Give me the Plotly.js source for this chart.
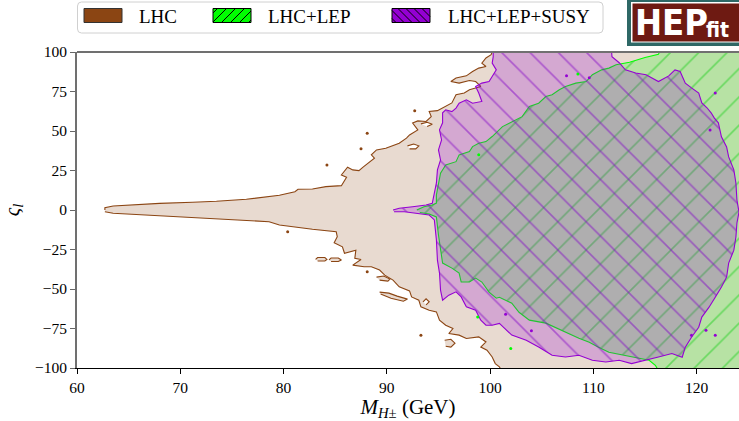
<!DOCTYPE html>
<html><head><meta charset="utf-8">
<script src="https://cdn.plot.ly/plotly-3.0.1.min.js"></script>
<style>html,body{margin:0;padding:0;background:#fff}#chart{width:739px;height:421px}</style>
</head><body><div id="chart"></div>
<script>
// ---------------- data (M_H± in GeV, ς_l) ----------------
const xTicks = [60, 70, 80, 90, 100, 110, 120];
const yTicks = [-100, -75, -50, -25, 0, 25, 50, 75, 100];
const legendNames = ['LHC', 'LHC+LEP', 'LHC+LEP+SUSY'];

// LHC allowed region boundary
const lhcBoundary = [
 [62.7,0],[62.7,1.5],[63.5,2.5],[64.8,3.0],[68.0,4.2],[71.2,4.9],[73.5,5.5],[76.4,6.8],[78.3,8.4],[79.6,9.3],
 [81.1,11.6],[81.4,13.1],[82.8,13.3],[84.1,14.8],[85.6,15.4],[85.9,19.0],[86.1,20.7],[85.6,22.2],[86.2,27.1],[86.7,25.4],
 [87.3,24.9],[87.7,27.1],[88.8,32.8],[88.5,34.9],[89.0,38.0],[89.9,39.1],[91.2,42.3],[91.9,45.5],[92.2,47.5],[93.0,50.7],
 [92.5,55.0],[93.0,56.4],[93.8,56.0],[94.3,59.1],[94.1,62.3],[94.9,62.9],[95.4,64.7],[96.3,67.8],[96.7,72.9],[97.5,74.0],
 [98.0,76.1],[98.5,77.1],[99.1,78.2],[98.6,81.3],[98.0,82.0],[97.0,80.3],[96.2,81.3],[96.7,83.5],[97.7,84.9],[98.3,87.7],
 [98.9,89.8],[99.6,90.8],[99.2,93.0],[99.6,96.2],[100.1,98.3],[100.5,105],[130,105],[130,-105],[101.4,-105],
 [100.9,-99.3],[100.5,-97.2],[100.2,-93.0],[99.7,-88.7],[99.1,-86.7],[99.6,-83.5],[98.9,-80.3],[97.7,-81.3],[97.0,-79.2],
 [96.0,-78.2],[96.4,-75.0],[95.7,-72.9],[95.1,-69.7],[94.8,-64.5],[94.1,-63.4],[93.3,-61.3],[93.1,-57.1],[92.4,-55.0],
 [92.2,-51.2],[91.2,-48.6],[90.6,-44.4],[89.8,-41.2],[89.3,-38.0],[88.5,-35.9],[87.8,-35.9],[86.7,-34.9],[87.5,-31.3],
 [86.9,-30.6],[87.0,-25.4],[85.9,-27.4],[85.7,-23.3],[84.9,-20.7],[85.2,-16.9],[85.1,-13.8],[82.8,-12.2],[80.9,-10.6],
 [79.6,-9.5],[78.6,-7.4],[74.5,-5.9],[71.2,-4.6],[66.4,-3.2],[63.5,-2.1],[62.7,-1.1]
];
// small LHC islands and holes
const lhcIslands = [
 [[83.1,-31.3],[83.3,-30.1],[84.0,-30.1],[84.2,-31.3],[84.0,-32.3],[83.3,-32.3]],
 [[84.4,-31.6],[84.6,-30.4],[85.3,-30.4],[85.6,-31.6],[85.3,-32.6],[84.6,-32.6]],
 [[89.3,-52.0],[90.2,-52.6],[91.0,-54.5],[92.0,-56.4],[91.6,-57.7],[90.4,-55.8],[89.4,-53.2]],
 [[89.0,-42.5],[89.7,-41.8],[90.3,-43.7],[90.1,-45.0],[89.3,-44.4]],
 [[95.6,-82.4],[96.2,-81.8],[96.6,-84.3],[96.2,-86.8],[95.7,-86.2]]
];
const lhcHoles = [
 [[93.5,-58.1],[93.8,-56.2],[94.1,-58.1],[93.8,-60.0]],
 [[92.0,40.6],[92.6,41.8],[93.1,40.6],[92.8,38.7],[92.2,38.7]],
 [[93.3,54.5],[93.9,55.5],[94.4,54.2],[93.9,52.9]]
];
const lhcDots = [[92.7,62.8],[88.1,48.6],[87.5,38.7],[84.2,28.5],[80.4,-13.8],[88.1,-39.1],[93.3,-79.2]];

// LHC+LEP region boundary
const lepBoundary = [
 [92.9,0.0],[93.6,2.1],[94.4,3.2],[94.8,4.4],[94.8,9.5],[95.0,15.8],[95.2,23.3],[95.7,28.5],[96.7,30.6],[97.0,34.9],
 [98.0,37.0],[98.3,40.1],[98.9,42.3],[99.6,43.3],[100.2,46.5],[101.2,52.8],[102.1,56.0],[103.1,59.1],[103.8,65.5],[104.7,67.6],
 [105.4,71.8],[106.0,72.9],[106.7,76.1],[107.3,78.2],[108.3,80.3],[109.3,81.3],[109.9,85.6],[110.8,88.7],[111.5,89.8],[112.2,91.9],
 [113.5,93.5],[115.0,96.5],[116.3,98.5],[116.8,106],[130,106],[130,-106],[116.7,-106],[116.0,-98.3],[115.4,-95.1],[114.4,-93.8],
 [112.8,-91.9],[111.5,-90.0],[110.5,-86.8],[109.6,-83.7],[108.6,-81.1],[107.6,-78.0],[106.4,-74.8],[105.4,-71.6],[103.8,-69.7],[102.8,-64.7],
 [102.1,-59.0],[100.9,-55.2],[100.6,-55.8],[99.9,-52.0],[99.2,-45.6],[98.6,-43.1],[98.0,-45.6],[97.2,-45.6],[97.0,-39.9],[96.3,-36.8],
 [95.4,-33.6],[95.2,-25.4],[95.0,-15.8],[94.8,-4.4],[94.1,-2.5],[93.2,-1.6]
];
const lepSpecks = [[102.0,-87.7],[98.8,-67.8],[98.9,34.9],[108.5,86.0]];

// LHC+LEP+SUSY region boundary
const susyBoundary = [
 [90.6,0.0],[91.2,1.1],[92.5,2.1],[93.8,3.2],[94.4,4.2],[94.6,10.8],[94.8,17.1],[94.9,25.4],[95.2,31.7],[95.0,38.0],
 [95.3,44.4],[95.1,50.7],[95.4,55.2],[95.4,61.5],[95.7,63.4],[96.3,62.3],[96.7,64.5],[97.0,67.6],[97.7,69.7],[98.3,67.6],
 [99.2,68.7],[98.9,74.0],[98.6,78.2],[99.2,80.3],[99.9,81.3],[100.2,84.5],[100.6,88.7],[100.2,93.0],[100.3,96.9],[100.3,106],
 [111.7,106],[111.8,97.0],[112.5,93.2],[113.1,88.7],[114.1,86.7],[115.1,85.6],[116.3,81.3],[117.3,84.9],[117.9,88.7],[118.4,87.7],
 [118.9,80.3],[119.5,77.3],[120.2,74.0],[120.5,67.8],[121.0,64.7],[121.4,61.5],[121.7,58.3],[122.1,55.2],[122.4,46.3],[122.9,39.9],
 [123.1,33.6],[123.6,25.4],[123.8,17.1],[123.9,6.3],[124.1,-1.3],[123.9,-8.2],[123.8,-17.1],[123.6,-25.4],[123.1,-33.6],[122.9,-42.5],
 [122.4,-48.8],[121.8,-55.2],[121.2,-61.5],[120.5,-67.8],[120.2,-74.2],[119.5,-80.5],[118.9,-86.8],[118.6,-93.2],[117.6,-90.8],[116.3,-93.0],
 [115.1,-95.1],[113.7,-97.2],[112.5,-95.1],[111.2,-96.2],[109.9,-95.1],[108.6,-91.9],[107.3,-93.0],[106.0,-91.9],[104.7,-86.7],[103.5,-82.4],
 [102.1,-79.2],[100.9,-71.8],[100.2,-72.9],[99.6,-72.9],[99.1,-69.7],[98.6,-63.4],[97.7,-61.3],[97.2,-55.0],[96.7,-51.8],[96.0,-53.9],
 [95.4,-57.1],[95.2,-50.7],[95.1,-39.9],[94.9,-31.7],[94.8,-19.0],[94.6,-6.3],[94.1,-3.2],[92.5,-2.1],[91.7,-1.1],[90.7,-1.1]
];
const susySpecks = [[107.4,84.9],[109.6,83.7],[121.3,50.7],[121.8,74.0],[119.5,-79.2],[120.9,-76.1],[121.8,-79.2],[101.5,-66.0],[104.0,-76.5]];

// ---------------- helpers ----------------
const X = pts => pts.map(p => p[0]);
const Y = pts => pts.map(p => p[1]);
const joinX = list => list.flatMap((poly, i) => (i ? [null] : []).concat(X(poly)));
const joinY = list => list.flatMap((poly, i) => (i ? [null] : []).concat(Y(poly)));

const BROWN = '#8b4513', GREEN = '#00ff00', PURPLE = '#9400d3';
const lhcFill = 'rgba(139,69,19,0.2)';
const lepFill = 'rgba(0,255,0,0.21)';
const susyFill = 'rgba(148,0,211,0.23)';
const SERIF = '"Liberation Serif", "DejaVu Serif", serif';
const LOGOFONT = '"DejaVu Sans Condensed", "Liberation Sans Narrow", "Liberation Sans", sans-serif';

const traces = [
 {x: X(lhcBoundary), y: Y(lhcBoundary), mode: 'lines', fill: 'toself', fillcolor: lhcFill,
  line: {color: BROWN, width: 1.1}, hoverinfo: 'skip', name: legendNames[0]},
 {x: joinX(lhcIslands), y: joinY(lhcIslands), mode: 'lines', fill: 'toself', fillcolor: lhcFill,
  line: {color: BROWN, width: 1.1}, hoverinfo: 'skip', connectgaps: false},
 {x: joinX(lhcHoles), y: joinY(lhcHoles), mode: 'lines', fill: 'toself', fillcolor: '#ffffff',
  line: {color: BROWN, width: 1.1}, hoverinfo: 'skip', connectgaps: false},
 {x: X(lhcDots), y: Y(lhcDots), mode: 'markers', marker: {color: BROWN, size: 3}, hoverinfo: 'skip'},
 {x: X(lepBoundary), y: Y(lepBoundary), mode: 'lines', fill: 'toself', fillcolor: lepFill,
  fillpattern: {shape: '/', size: 20, solidity: 0.08, fgcolor: '#1ccf1c', bgcolor: lepFill, fillmode: 'overlay'},
  line: {color: GREEN, width: 1.1}, hoverinfo: 'skip', name: legendNames[1]},
 {x: X(susyBoundary), y: Y(susyBoundary), mode: 'lines', fill: 'toself', fillcolor: susyFill,
  fillpattern: {shape: '\\', size: 20, solidity: 0.08, fgcolor: '#8208c8', bgcolor: susyFill, fillmode: 'overlay'},
  line: {color: PURPLE, width: 1.1}, hoverinfo: 'skip', name: legendNames[2]},
 {x: X(lepSpecks), y: Y(lepSpecks), mode: 'markers', marker: {color: GREEN, size: 3}, hoverinfo: 'skip'},
 {x: X(susySpecks), y: Y(susySpecks), mode: 'markers', marker: {color: PURPLE, size: 3}, hoverinfo: 'skip'}
];

// ---------------- layout decoration (pixel -> paper) ----------------
const ML = 77, MT = 52, PW = 662, PH = 316;
const px = v => (v - ML) / PW;
const py = v => (MT + PH - v) / PH;
const shapes = [];
const annotations = [];
function rectPx(x0, y0, x1, y1, fill, lineColor, lw) {
  shapes.push({type: 'rect', xref: 'paper', yref: 'paper', x0: px(x0), x1: px(x1), y0: py(y1), y1: py(y0),
    fillcolor: fill, line: {color: lineColor || fill, width: lw === undefined ? 0 : lw}, layer: 'above'});
}
function linePx(x0, y0, x1, y1, color, w) {
  shapes.push({type: 'line', xref: 'paper', yref: 'paper', x0: px(x0), x1: px(x1), y0: py(y0), y1: py(y1),
    line: {color: color, width: w}, layer: 'above'});
}
function hatchPx(x0, y0, x1, y1, sp, dir) {
  if (dir === '/') {
    for (let c = x0 + y0 + sp / 2; c < x1 + y1; c += sp) {
      const xa = Math.max(x0, c - y1), xb = Math.min(x1, c - y0);
      if (xb > xa) linePx(xa, c - xa, xb, c - xb, '#000', 1);
    }
  } else {
    for (let c = x0 - y1 + sp / 2; c < x1 - y0; c += sp) {
      const xa = Math.max(x0, c + y0), xb = Math.min(x1, c + y1);
      if (xb > xa) linePx(xa, xa - c, xb, xb - c, '#000', 1);
    }
  }
}
// top frame line
linePx(ML, MT, 739, MT, '#707070', 2);
// legend box (rounded)
{
  const x0 = 77.5, x1 = 603, y0 = 2, y1 = 33, r = 4;
  const P = (a, b) => px(a) + ',' + py(b);
  shapes.push({type: 'path', xref: 'paper', yref: 'paper', layer: 'above',
    path: 'M' + P(x0 + r, y0) + ' L' + P(x1 - r, y0) + ' Q' + P(x1, y0) + ' ' + P(x1, y0 + r) +
          ' L' + P(x1, y1 - r) + ' Q' + P(x1, y1) + ' ' + P(x1 - r, y1) +
          ' L' + P(x0 + r, y1) + ' Q' + P(x0, y1) + ' ' + P(x0, y1 - r) +
          ' L' + P(x0, y0 + r) + ' Q' + P(x0, y0) + ' ' + P(x0 + r, y0) + ' Z',
    fillcolor: '#ffffff', line: {color: '#d0d0d0', width: 1}});
}
const patchY0 = 8.5, patchY1 = 22.5;
rectPx(84, patchY0, 122, patchY1, BROWN, '#333', 1);
rectPx(213, patchY0, 251, patchY1, GREEN, '#000', 1);
hatchPx(213, patchY0, 251, patchY1, 9, '/');
rectPx(392, patchY0, 430, patchY1, PURPLE, '#000', 1);
hatchPx(392, patchY0, 430, patchY1, 8, '\\');
const legendTextX = [137, 266, 446];
legendNames.forEach((t, i) => annotations.push({xref: 'paper', yref: 'paper', x: px(legendTextX[i]), y: py(16),
  xanchor: 'left', yanchor: 'middle', showarrow: false, text: t, font: {family: SERIF, size: 19, color: '#000'}}));
// HEPfit logo
rectPx(627, -2, 745, 46, '#2e6866');
rectPx(631, 2, 745, 42.5, '#ffffff');
rectPx(632.5, 3.5, 745, 41.5, '#6e1a12');
annotations.push({xref: 'paper', yref: 'paper', x: px(633), y: py(23), xanchor: 'left', yanchor: 'middle', showarrow: false,
  text: '<b>HEP</b>', font: {family: LOGOFONT, size: 36, color: '#ffffff'}});
annotations.push({xref: 'paper', yref: 'paper', x: px(704), y: py(30), xanchor: 'left', yanchor: 'middle', showarrow: false,
  text: '<b>fit</b>', font: {family: LOGOFONT, size: 21, color: '#ffffff'}});

const layout = {
  width: 739, height: 421,
  margin: {l: ML, r: 0, t: MT, b: 421 - MT - PH, pad: 0},
  paper_bgcolor: '#ffffff', plot_bgcolor: '#ffffff',
  showlegend: false,
  xaxis: {range: [60, 124.1], tickvals: xTicks, ticktext: xTicks.map(String), ticks: 'outside', ticklen: 5, tickwidth: 1,
    tickcolor: '#000', showline: true, linecolor: '#000', linewidth: 1.3, showgrid: false, zeroline: false,
    tickfont: {family: SERIF, size: 15.5, color: '#000'},
    title: {text: '<i>M</i><sub><i>H</i>±</sub> (GeV)', font: {family: SERIF, size: 21, color: '#000'}, standoff: 6}},
  yaxis: {range: [-100, 100], tickvals: yTicks, ticktext: yTicks.map(v => v < 0 ? '\u2212' + Math.abs(v) : String(v)),
    ticks: 'outside', ticklen: 5, tickwidth: 1, tickcolor: '#666', showline: true, linecolor: '#707070', linewidth: 2,
    showgrid: false, zeroline: false, tickfont: {family: SERIF, size: 15.5, color: '#000'},
    title: {text: '<i>ς</i><sub><i>l</i></sub>', font: {family: SERIF, size: 21, color: '#000'}, standoff: 10}},
  shapes: shapes,
  annotations: annotations
};
Plotly.newPlot('chart', traces, layout, {staticPlot: true, displayModeBar: false});
</script></body></html>
